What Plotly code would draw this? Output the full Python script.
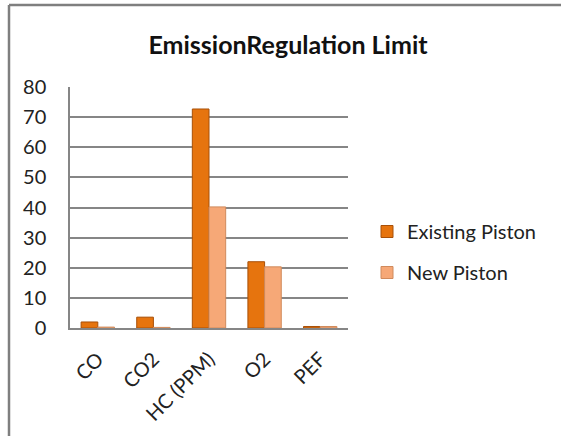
import plotly.graph_objects as go

categories = ["CO", "CO2", "HC (PPM)", "O2", "PEF"]
existing = [2.0, 3.6, 72.7, 22.0, 0.5]
new_piston = [0.3, 0.2, 40.2, 20.3, 0.5]
y_ticks = [0, 10, 20, 30, 40, 50, 60, 70, 80]

W, H = 561, 436
L, R, T, B = 70, 213, 87, 108
pw, ph = W - L - R, H - T - B

def px_x(x):
    return (x - L) / pw

def px_y(y):
    return (H - B - y) / ph

fig = go.Figure()
fig.add_trace(go.Bar(
    x=categories, y=existing, name="Existing Piston", legendgroup="a",
    marker=dict(color="#E6740E", line=dict(color="#A85008", width=1)),
))
fig.add_trace(go.Bar(
    x=categories, y=new_piston, name="New Piston", legendgroup="b",
    marker=dict(color="#F6A877", line=dict(color="#D08A5C", width=1)),
))

font = "Lato"
fig.update_layout(
    width=W, height=H,
    margin=dict(l=L, r=R, t=T, b=B, autoexpand=False),
    paper_bgcolor="white", plot_bgcolor="white",
    barmode="group", bargap=0.4, bargroupgap=0.0,
    title=dict(text="<b>EmissionRegulation Limit</b>", x=288 / W, xanchor="center",
               y=1 - 45 / H, yanchor="middle",
               font=dict(family=font, size=25, color="#111111")),
    font=dict(family=font, size=20, color="#222222"),
    showlegend=True,
    legend=dict(x=px_x(367), y=px_y(252), xanchor="left", yanchor="middle",
                font=dict(family=font, size=20, color="#222222"),
                itemwidth=30, traceorder="grouped", tracegroupgap=12,
                bgcolor="rgba(0,0,0,0)"),
    xaxis=dict(tickangle=-45, showgrid=False, showline=True, linecolor="#868686",
               linewidth=1.5, ticks="", ticklabelstandoff=10,
               tickfont=dict(family=font, size=20, color="#222222")),
    yaxis=dict(range=[0, 80], tickvals=y_ticks, showgrid=True, gridcolor="#868686",
               gridwidth=1.5, showline=True, linecolor="#868686", linewidth=1.5,
               zeroline=False, ticks="", ticklabelstandoff=18,
               tickfont=dict(family=font, size=20, color="#222222")),
    shapes=[
        dict(type="line", xref="paper", yref="paper", x0=px_x(9), x1=px_x(W + 5),
             y0=px_y(5), y1=px_y(5), line=dict(color="#7F7F7F", width=2.5)),
        dict(type="line", xref="paper", yref="paper", x0=px_x(9), x1=px_x(9),
             y0=px_y(5), y1=px_y(H + 5), line=dict(color="#7F7F7F", width=2.5)),
    ],
)
fig.write_html("out.html", config={"displayModeBar": False})

with open("out.html", encoding="utf-8") as f:
    html = f.read()
html = html.replace("<body>", '<body style="margin:0;padding:0;overflow:hidden">', 1)
with open("out.html", "w", encoding="utf-8") as f:
    f.write(html)
